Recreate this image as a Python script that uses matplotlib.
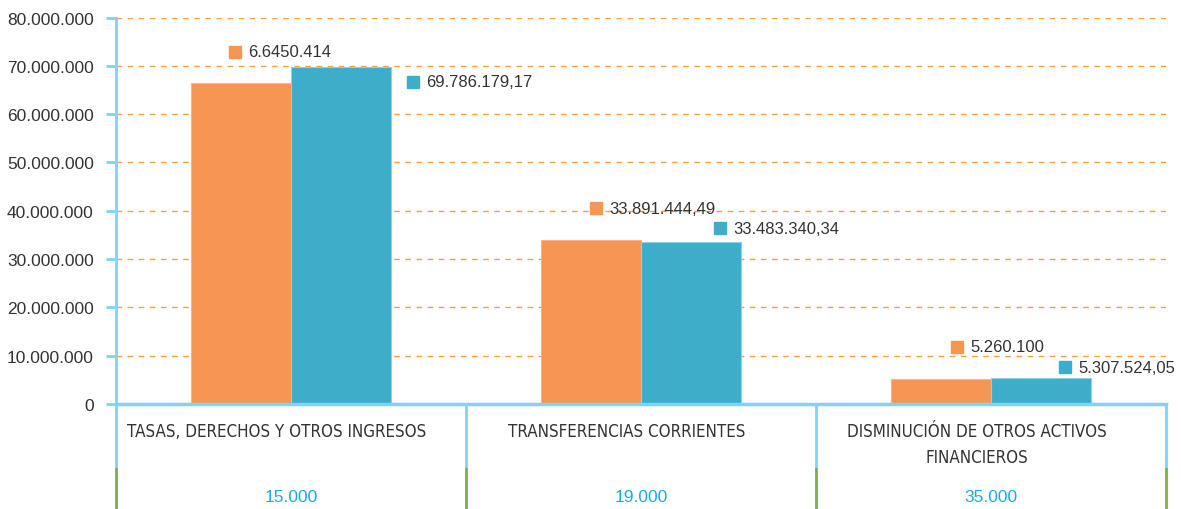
import numpy as np
import matplotlib
matplotlib.use("Agg")
import matplotlib.pyplot as plt
import matplotlib.transforms as mtransforms
from matplotlib.lines import Line2D

# --- data ---
categories = ["TASAS, DERECHOS Y OTROS INGRESOS",
              "TRANSFERENCIAS CORRIENTES",
              "DISMINUCIÓN DE OTROS ACTIVOS\nFINANCIEROS"]
codes = ["15.000", "19.000", "35.000"]
orange_vals = [66450414, 33891444.49, 5260100]
blue_vals = [69786179.17, 33483340.34, 5307524.05]
orange_labels = ["6.6450.414", "33.891.444,49", "5.260.100"]
blue_labels = ["69.786.179,17", "33.483.340,34", "5.307.524,05"]
yticks = np.arange(0, 80000001, 10000000)

ORANGE = "#F79552"
BLUE = "#3EADCA"
GRID = "#F5A040"
AXIS = "#7FD3F5"
GREEN = "#7FAE48"
CODE = "#1AA9E6"
TEXT = "#333333"

REG = ["Liberation Sans", "DejaVu Sans"]

W, H = 1181, 510
fig = plt.figure(figsize=(W / 100, H / 100), dpi=100)
ax = fig.add_axes([116 / W, (H - 405) / H, 1050 / W, 386.5 / H])

x = np.arange(len(categories))
bw = 0.2857
ax.bar(x - bw / 2, orange_vals, bw, color=ORANGE, edgecolor="#FAB487", lw=0.8, zorder=3)
ax.bar(x + bw / 2, blue_vals, bw, color=BLUE, edgecolor="#8FD0E2", lw=0.8, zorder=3)

ax.set_xlim(-0.5, 2.5)
ax.set_ylim(0, 80000000)
ax.set_yticks(yticks)
ax.set_yticklabels([f"{v:,.0f}".replace(",", ".") for v in yticks],
                   family=REG, fontsize=12.5, color=TEXT)
ax.set_xticks([])
ax.tick_params(axis="y", length=7, width=2, color=AXIS, pad=9)

for v in yticks[1:]:
    ax.axhline(v, color=GRID, lw=1, ls=(0, (4, 4)), zorder=1)

for s in ["top", "right"]:
    ax.spines[s].set_visible(False)
ax.spines["left"].set_color(AXIS)
ax.spines["left"].set_linewidth(2)
ax.spines["bottom"].set_color(AXIS)
ax.spines["bottom"].set_linewidth(2.5)
ax.spines["bottom"].set_zorder(4)

# --- value labels with square markers (offsets in pixels from bar top) ---
o_off = [(-6, 31), (5, 32), (16, 32)]
b_off = [(72, -15), (29, 14), (24, 11)]

def put_label(xc, val, off, txt, color):
    tm = mtransforms.offset_copy(ax.transData, fig, x=off[0], y=off[1], units="dots")
    ax.plot([xc], [val], "s", ms=8.6, color=color, transform=tm, clip_on=False, zorder=5)
    tt = mtransforms.offset_copy(ax.transData, fig, x=off[0] + 13, y=off[1], units="dots")
    ax.text(xc, val, txt, transform=tt, ha="left", va="center", family=REG,
            fontsize=12, color=TEXT, zorder=5)

for i in range(len(categories)):
    put_label(x[i] - bw / 2, orange_vals[i], o_off[i], orange_labels[i], ORANGE)
    put_label(x[i] + bw / 2, blue_vals[i], b_off[i], blue_labels[i], BLUE)

# --- table below the axis ---
bt = mtransforms.blended_transform_factory(ax.transData, fig.transFigure)
def fy(py):
    return 1 - py / H

for xe in np.arange(-0.5, 2.6, 1.0):
    fig.add_artist(Line2D([xe, xe], [fy(405), fy(470)], transform=bt, color=AXIS, lw=2))
    fig.add_artist(Line2D([xe, xe], [fy(470), fy(510)], transform=bt, color=GREEN, lw=2))

for i, lab in enumerate(categories):
    for j, line in enumerate(lab.split("\n")):
        ax.text(x[i] - 0.04, fy(432 + 26 * j), line, transform=bt, ha="center", va="center",
                family="DejaVu Sans", fontstretch="condensed", fontsize=12.2, color=TEXT)
    ax.text(x[i], fy(498), codes[i], transform=bt, ha="center", va="center",
            family=REG, fontsize=12.5, color=CODE)

fig.savefig("out.png", dpi=100)
